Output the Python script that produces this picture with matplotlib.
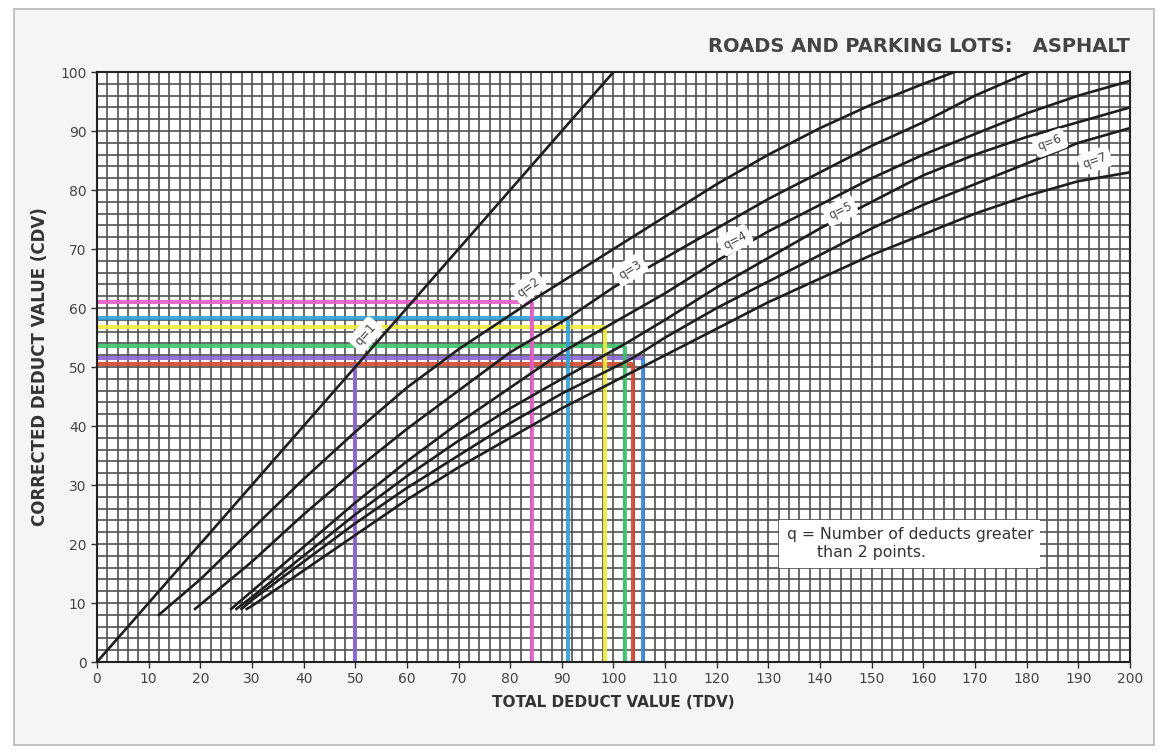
import numpy as np
import matplotlib
matplotlib.use("Agg")
import matplotlib.pyplot as plt
from matplotlib.patches import Rectangle

# ---------------- data ----------------
q1_x = [0, 100]
q1_y = [0, 100]

q2_x = [12, 20, 30, 40, 50, 60, 70, 84.3, 100, 110, 120, 130, 140, 150, 160, 166]
q2_y = [8, 14, 22.5, 31, 39, 46.5, 53, 61.3, 70, 75.5, 81, 86, 90.5, 94.5, 98, 100]

q3_x = [19, 30, 40, 50, 60, 70, 80, 91.2, 100, 110, 120, 130, 140, 150, 160, 170, 180.5]
q3_y = [9, 17, 25, 32.5, 39.5, 46, 52.5, 58.3, 63.5, 68.5, 73.5, 78.5, 83, 87.5, 91.5, 96, 100]

q4_x = [26, 30, 40, 50, 60, 70, 80, 90, 98.4, 110, 120, 130, 140, 150, 160, 170, 180, 190, 200]
q4_y = [9, 12, 19.5, 27, 34, 40.5, 46.5, 52.5, 56.7, 62.5, 68, 73, 77.5, 82, 86, 89.5, 93, 96, 98.5]

q5_x = [27, 30, 40, 50, 60, 70, 80, 90, 102, 110, 120, 130, 140, 150, 160, 170, 180, 190, 200]
q5_y = [9, 11, 18, 25, 31.5, 37.5, 43, 48, 53.8, 58, 63.5, 68.5, 73.5, 78, 82.5, 86, 89, 91.5, 94]

q6_x = [28, 30, 40, 50, 60, 70, 80, 90, 103.7, 110, 120, 130, 140, 150, 160, 170, 180, 190, 200]
q6_y = [9, 10.5, 17, 23.5, 29.5, 35, 40.5, 45.5, 51.5, 55, 60, 64.5, 69, 73.5, 77.5, 81, 84.5, 88, 90.5]

q7_x = [29, 30, 40, 50, 60, 70, 80, 90, 100, 110, 120, 130, 140, 150, 160, 170, 180, 190, 200]
q7_y = [9, 9.5, 15.5, 21.5, 27.5, 33, 38, 43, 47.5, 52, 56.5, 61, 65, 69, 72.5, 76, 79, 81.5, 83]

curve_labels = ["q=1", "q=2", "q=3", "q=4", "q=5", "q=6", "q=7"]
label_x = [52, 83.5, 103.2, 123.5, 143.9, 184.5, 193.2]
label_y = [55.5, 63.5, 66.5, 71.5, 76.5, 88, 85]
label_rot = [49, 36, 32, 28, 26, 21, 20]

# coloured example read-off lines
h_y = [61.0, 58.3, 56.7, 53.5, 51.5, 50.5]
h_xend = [84.3, 91.2, 98.4, 102.2, 105.7, 103.7]
h_col = ["#e25fc6", "#2f9fd4", "#f0ec3c", "#3cc46a", "#8a63d2", "#d2482e"]

v_x = [50, 84.3, 91.2, 98.4, 102.2, 103.7, 105.7]
v_yend = [50.5, 61.0, 58.3, 56.7, 53.5, 50.5, 51.5]
v_col = ["#8a63d2", "#e25fc6", "#2f9fd4", "#f0ec3c", "#3cc46a", "#d2482e", "#3a86d4"]

x_ticks = list(range(0, 201, 10))
y_ticks = list(range(0, 101, 10))

# ---------------- figure ----------------
plt.rcParams['font.family'] = ['DejaVu Sans']
fig = plt.figure(figsize=(11.68, 7.54), dpi=100)
fig.patch.set_facecolor("white")
frame = Rectangle((0.012, 0.012), 0.976, 0.976, transform=fig.transFigure,
                  facecolor="#f5f5f5", edgecolor="#b8b8b8", lw=1.2, zorder=-10)
fig.patches.append(frame)

ax = fig.add_axes([0.083, 0.122, 0.8845, 0.7825])
ax.set_zorder(5)
ax.set_facecolor("white")
ax.set_xlim(0, 200)
ax.set_ylim(0, 100)

# grid
for g in np.arange(0, 201, 2):
    ax.axvline(g, color="#505050", lw=1.2, zorder=1)
for g in np.arange(0, 101, 2):
    ax.axhline(g, color="#505050", lw=1.2, zorder=1)

# coloured read-off lines
for y, xe, c in zip(h_y, h_xend, h_col):
    ax.plot([0, xe], [y, y], color=c, lw=3.0, alpha=0.9, zorder=2, solid_capstyle="butt")
for x, ye, c in zip(v_x, v_yend, v_col):
    ax.plot([x, x], [0, ye], color=c, lw=3.0, alpha=0.9, zorder=2, solid_capstyle="butt")

# curves
for xs, ys in [(q1_x, q1_y), (q2_x, q2_y), (q3_x, q3_y), (q4_x, q4_y),
               (q5_x, q5_y), (q6_x, q6_y), (q7_x, q7_y)]:
    ax.plot(xs, ys, color="#1e1e1e", lw=1.9, zorder=3, clip_on=True)

# curve labels
for t, lx, ly, r in zip(curve_labels, label_x, label_y, label_rot):
    ax.text(lx, ly, t, rotation=r, rotation_mode="anchor", ha="center", va="center",
            fontsize=8.5, color="#444444", zorder=5,
            bbox=dict(boxstyle="round,pad=0.35", fc="white", ec="none"))

# note box
ax.text(133.5, 22.8, "q = Number of deducts greater\n      than 2 points.", fontsize=11.3,
        color="#333333", va="top", ha="left", zorder=5, linespacing=1.25,
        bbox=dict(boxstyle="square,pad=0.45", fc="white", ec="none"))

ax.set_xticks(x_ticks)
ax.set_yticks(y_ticks)
ax.tick_params(axis="both", labelsize=10, colors="#333333", length=4, width=1, direction="out")
ax.set_xticklabels([str(v) for v in x_ticks], color="#444444")
ax.set_yticklabels([str(v) for v in y_ticks], color="#444444")
for s in ax.spines.values():
    s.set_color("#222222")
    s.set_linewidth(1.5)

ax.set_xlabel("TOTAL DEDUCT VALUE (TDV)", fontsize=11, fontweight="bold", color="#333333", labelpad=6)
ax.set_ylabel("CORRECTED DEDUCT VALUE (CDV)", fontsize=12, fontweight="bold", color="#333333", labelpad=8)

fig.text(0.967, 0.938, "ROADS AND PARKING LOTS:   ASPHALT", ha="right", va="center",
         fontsize=14, fontweight="bold", color="#444444")

fig.savefig("out.png", dpi=100, facecolor=fig.get_facecolor())
